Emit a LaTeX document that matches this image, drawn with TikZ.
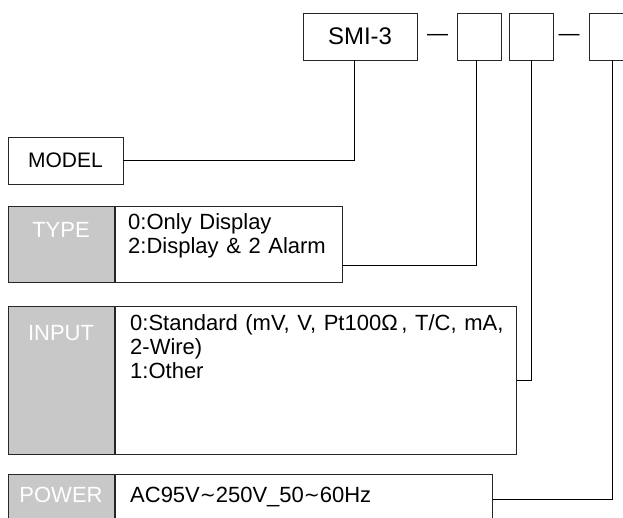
\documentclass[tikz,border=0pt]{standalone}
\usepackage{fontspec}
\setmainfont{Liberation Sans}
\newfontfamily\symfont{DejaVu Sans}
\usetikzlibrary{positioning, calc}
\definecolor{cellfill}{RGB}{200, 200, 200}
\newcommand{\wave}{\raisebox{.5pt}{\symfont\fontsize{19}{19}\selectfont ∼}}
\newcommand{\bodyfont}{\fontsize{22}{22}\selectfont
    \setlength{\spaceskip}{7.6pt plus 1pt}}
\tikzset{
    every node/.style={inner sep=0pt},
    frame/.style={draw=black!85, line width=.75pt},
    codebox/.style={frame, minimum width=44pt, minimum height=47pt},
    labelcell/.style={frame, fill=cellfill, minimum width=106pt,
        anchor=north west},
    bodycell/.style={frame, anchor=north west},
    celltext/.style={text=white, font=\fontsize{22}{22}\selectfont},
    bodytext/.style={anchor=base west, font=\bodyfont},
    link/.style={draw=black, line width=.75pt},
}

\begin{document}
\begin{tikzpicture}[x=1pt, y=-1pt]
    \useasboundingbox (0, 0) rectangle (623, 518);
    \clip (0, 0) rectangle (623, 518);
    % model code
    \node[frame, minimum width=114pt, minimum height=47pt,
        font=\fontsize{24}{24}\selectfont] (smi) at (360, 36.5) {SMI-3};
    \node[font=\fontsize{21}{21}\selectfont] (dasha) at (437.5, 37) {—};
    \node[codebox] (boxa) at (479, 36.5) {};
    \node[codebox] (boxb) at (531, 36.5) {};
    \node[font=\fontsize{21}{21}\selectfont] (dashb) at (569, 37) {—};
    \node[codebox] (boxc) at (611, 36.5) {};
    \node[frame, minimum width=115pt, minimum height=47pt,
        font=\fontsize{21}{21}\selectfont] (model) at (65.5, 160.5) {MODEL};
    % type
    \node[labelcell, minimum height=76pt] (typecell) at (8, 206) {};
    \node[bodycell, minimum width=227pt, minimum height=76pt] (typebox)
        at (typecell.north east) {};
    \node[celltext] (typelabel) at (61, 230) {TYPE};
    \node[bodytext] (typeone) at (128, 230) {0:Only Display};
    \node[bodytext] (typetwo) at (128, 254) {2:Display \& 2 Alarm};
    % input
    \node[labelcell, minimum height=148pt] (inputcell) at (8, 306) {};
    \node[bodycell, minimum width=401pt, minimum height=148pt] (inputbox)
        at (inputcell.north east) {};
    \node[celltext] (inputlabel) at (61, 333) {INPUT};
    \node[bodytext] (inputone) at (130, 330)
        {0:Standard (mV, V, Pt100Ω\,, T/C, mA,};
    \node[bodytext] (inputtwo) at (130, 354) {2-Wire)};
    \node[bodytext] (inputthree) at (130, 378) {1:Other};
    % power
    \node[labelcell, minimum height=50pt] (powercell) at (8, 474) {};
    \node[bodycell, minimum width=377pt, minimum height=50pt] (powerbox)
        at (powercell.north east) {};
    \node[celltext] (powerlabel) at (61, 495) {POWER};
    \node[bodytext] (powertext) at (130, 502)
        {AC95V\wave250V\_50\wave60Hz};
    % connectors
    \draw[link] (model.east) -| ([xshift=-6pt]smi.south);
    \draw[link] ([yshift=17pt]typebox.south east) -| ([xshift=-3pt]boxa.south);
    \draw[link] (inputbox.east) -| (boxb.south);
    \draw[link] (powerbox.east) -| ([xshift=1pt]boxc.south);
\end{tikzpicture}
\end{document}
